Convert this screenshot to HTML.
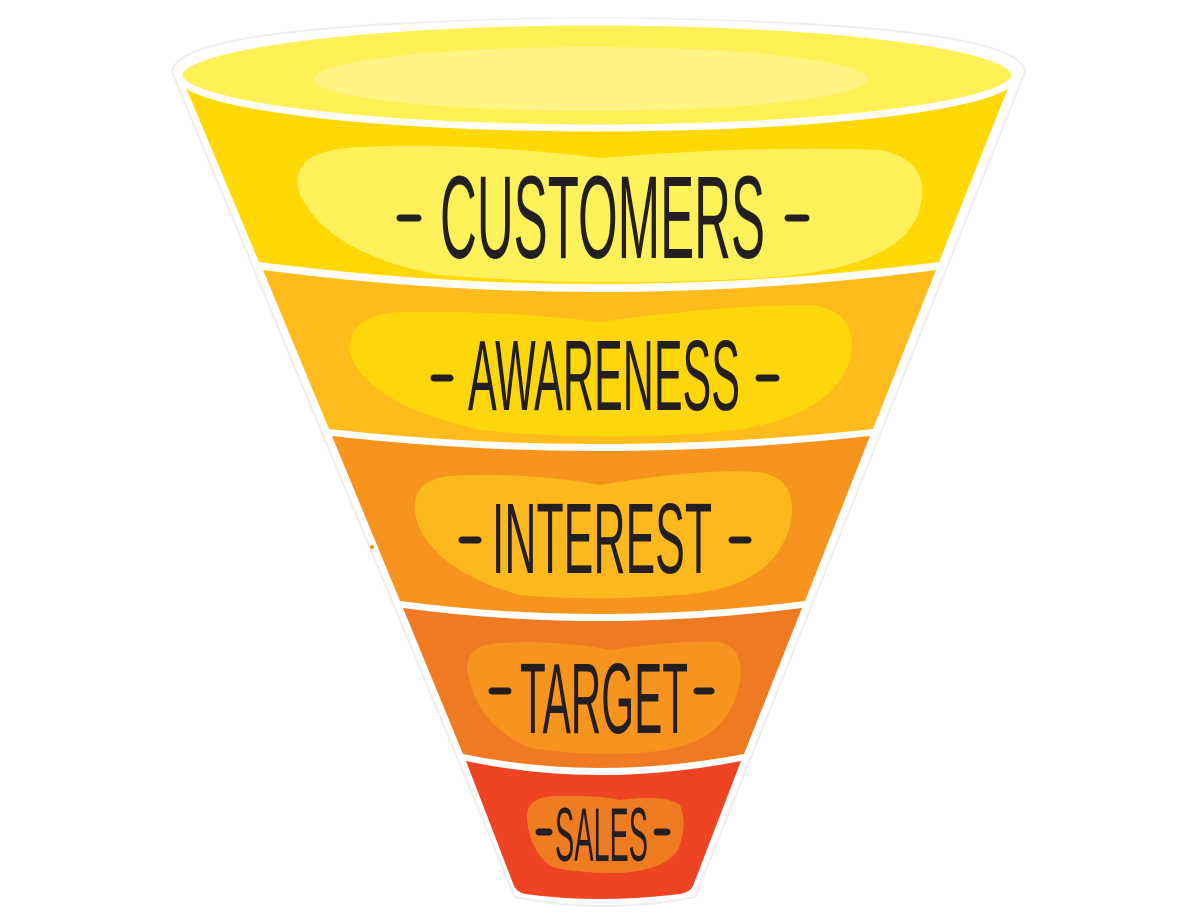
<!DOCTYPE html>
<html><head><meta charset="utf-8"><style>html,body{margin:0;padding:0;background:#fff;width:1200px;height:920px;overflow:hidden}</style></head>
<body>
<svg width="1200" height="920" viewBox="0 0 1200 920" xmlns="http://www.w3.org/2000/svg">
<path d="M172,72 Q175,22 597,18 Q1022,22 1025,72 L695,897 Q605,915 515,897 Z" fill="#fff" stroke="#eee" stroke-width="2"/>
<path d="M182,78 L1012,78 L939,262 Q597,306 259,262 Z" fill="#FFD805"/>
<path d="M300,195 Q285,150 360,147 Q470,142 600,158 Q760,145 880,150 Q935,160 918,215 Q895,270 760,278 Q600,288 440,275 Q330,255 300,195 Z" fill="#FFF15A"/>
<path d="M263,270 Q597,314 936,270 L873,429 Q597,459 329,429 Z" fill="#FDBC1C"/>
<path d="M350,355 Q345,315 400,312 Q500,310 600,322 Q720,305 810,305 Q860,310 850,360 Q830,420 720,432 Q600,442 480,430 Q370,405 350,355 Z" fill="#FFD609"/>
<path d="M332,436 Q597,466 870,436 L805,601 Q597,627 400,601 Z" fill="#F7941D"/>
<path d="M415,515 Q410,480 450,476 Q530,472 600,485 Q700,468 760,472 Q800,480 790,525 Q775,585 690,594 Q600,602 520,595 Q430,570 415,515 Z" fill="#FDB81E"/>
<path d="M403,608 Q597,634 802,608 L744,754 Q597,782 463,754 Z" fill="#F07A22"/>
<path d="M468,675 Q462,645 500,643 Q560,640 610,650 Q680,640 720,642 Q748,650 738,690 Q725,745 650,752 Q590,757 530,748 Q478,725 468,675 Z" fill="#F7941E"/>
<path d="M466,761 Q597,789 741,761 L693,886 Q690,892 680,894 Q597,904 525,894 Q517,892 514,886 Z" fill="#EE4423"/>
<path d="M527,820 Q525,797 555,796 Q600,795 620,800 Q665,794 680,805 Q688,825 678,850 Q665,870 620,873 Q570,873 550,866 Q530,850 527,820 Z" fill="#F07C22"/>
<ellipse cx="597" cy="75" rx="418" ry="53" fill="#FFF056" stroke="#fff" stroke-width="7"/>
<ellipse cx="590" cy="79" rx="277" ry="32" fill="#FFF383"/>
<g font-family="'Liberation Sans Narrow','Liberation Sans',sans-serif" fill="#231F20">
<text x="440" y="258" font-size="118" textLength="325" lengthAdjust="spacingAndGlyphs">CUSTOMERS</text>
<text x="468" y="410" font-size="100" textLength="272" lengthAdjust="spacingAndGlyphs">AWARENESS</text>
<text x="492" y="573" font-size="100" textLength="220" lengthAdjust="spacingAndGlyphs">INTEREST</text>
<text x="520" y="733" font-size="100" textLength="168" lengthAdjust="spacingAndGlyphs">TARGET</text>
<text x="555" y="861" font-size="76" textLength="93" lengthAdjust="spacingAndGlyphs">SALES</text>
</g>
<g stroke="#231F20" stroke-width="7" stroke-linecap="round">
<line x1="400" y1="218" x2="418" y2="218"/><line x1="788" y1="218" x2="806" y2="218"/>
<line x1="434" y1="378" x2="450" y2="378"/><line x1="759" y1="378" x2="776" y2="378"/>
<line x1="462" y1="540" x2="478" y2="540"/><line x1="732" y1="540" x2="748" y2="540"/>
<line x1="492" y1="691" x2="508" y2="691"/><line x1="697" y1="691" x2="711" y2="691"/>
<line x1="539" y1="832" x2="549" y2="832"/><line x1="657" y1="832" x2="667" y2="832"/>
</g>
<circle cx="372" cy="547" r="2" fill="#F7941D"/>
</svg>
</body></html>
